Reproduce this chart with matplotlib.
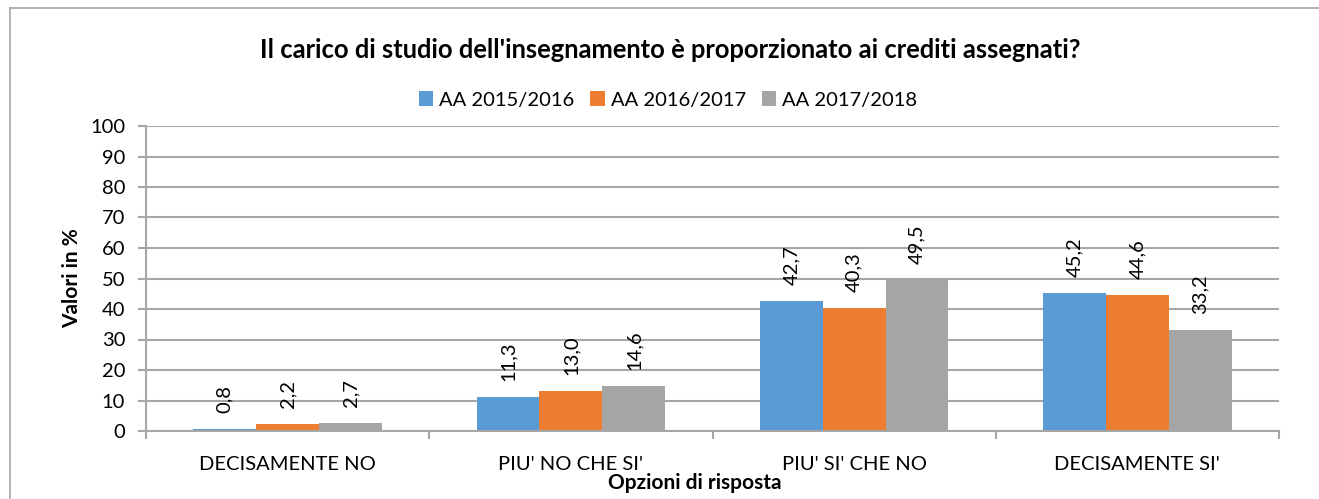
import matplotlib
matplotlib.use("Agg")
import matplotlib.pyplot as plt
import numpy as np

plt.rcParams['font.family'] = ['Lato', 'DejaVu Sans']

categories = ["DECISAMENTE NO", "PIU' NO CHE SI'", "PIU' SI' CHE NO", "DECISAMENTE SI'"]
series_names = ["AA 2015/2016", "AA 2016/2017", "AA 2017/2018"]
aa_2015 = [0.8, 11.3, 42.7, 45.2]
aa_2016 = [2.2, 13.0, 40.3, 44.6]
aa_2017 = [2.7, 14.6, 49.5, 33.2]
colors = ["#5B9BD5", "#ED7D31", "#A5A5A5"]
grid_col = "#A6A6A6"

fig = plt.figure(figsize=(13.19, 4.99), dpi=100)
ax = fig.add_axes([146 / 1319, 1 - 431 / 499, (1279 - 146) / 1319, (431 - 126) / 499])

x = np.arange(len(categories))
w = 0.222
for i, (vals, name) in enumerate(zip([aa_2015, aa_2016, aa_2017], series_names)):
    bars = ax.bar(x + (i - 1) * w, vals, w, color=colors[i], label=name, zorder=3)
    for b, v in zip(bars, vals):
        ax.annotate(f"{v:.1f}".replace(".", ","), (b.get_x() + b.get_width() / 2, v),
                    xytext=(0, 11.5), textcoords="offset points", rotation=90,
                    ha="center", va="bottom", fontsize=14.5)

ax.set_xlim(-0.5, len(categories) - 0.5)
ax.set_ylim(0, 100)
ax.set_yticks(range(0, 101, 10))
ax.yaxis.grid(True, color=grid_col, linewidth=1.5, zorder=0)
ax.tick_params(axis="y", length=6, width=1.5, color=grid_col, labelsize=14.5, pad=9)

ax.set_xticks(np.arange(-0.5, len(categories), 1))
ax.set_xticklabels([])
ax.tick_params(axis="x", which="major", length=6, width=1.5, color=grid_col)
ax.set_xticks(x, minor=True)
ax.set_xticklabels(categories, minor=True, fontsize=14.5)
ax.tick_params(axis="x", which="minor", length=0, pad=18)

for s in ["top", "right"]:
    ax.spines[s].set_visible(False)
for s in ["left", "bottom"]:
    ax.spines[s].set_color(grid_col)
    ax.spines[s].set_linewidth(1.5)
    ax.spines[s].set_zorder(4)

ax.set_ylabel("Valori in %", fontsize=15, fontweight="bold", labelpad=6)
ax.set_xlabel("Opzioni di risposta", fontsize=15, fontweight="bold", labelpad=0)
ax.xaxis.label.set_x((695 - 146) / 1133)

fig.text(670 / 1319, 1 - 50 / 499, "Il carico di studio dell'insegnamento è proporzionato ai crediti assegnati?",
         ha="center", va="center", fontsize=18.4, fontweight="bold")
fig.legend(loc="center", bbox_to_anchor=(668 / 1319, 1 - 100 / 499), ncol=3, frameon=False,
           fontsize=14.5, handlelength=0.7, handleheight=0.7, handletextpad=0.3, columnspacing=0.8)

# outer chart border
fig.add_artist(plt.Line2D([10 / 1319, 10 / 1319], [0, 1 - 8 / 499], transform=fig.transFigure,
                          color="#A6A6A6", linewidth=1.2))
fig.add_artist(plt.Line2D([10 / 1319, 1], [1 - 8 / 499, 1 - 8 / 499], transform=fig.transFigure,
                          color="#A6A6A6", linewidth=1.2))

fig.savefig("out.png", dpi=100)
